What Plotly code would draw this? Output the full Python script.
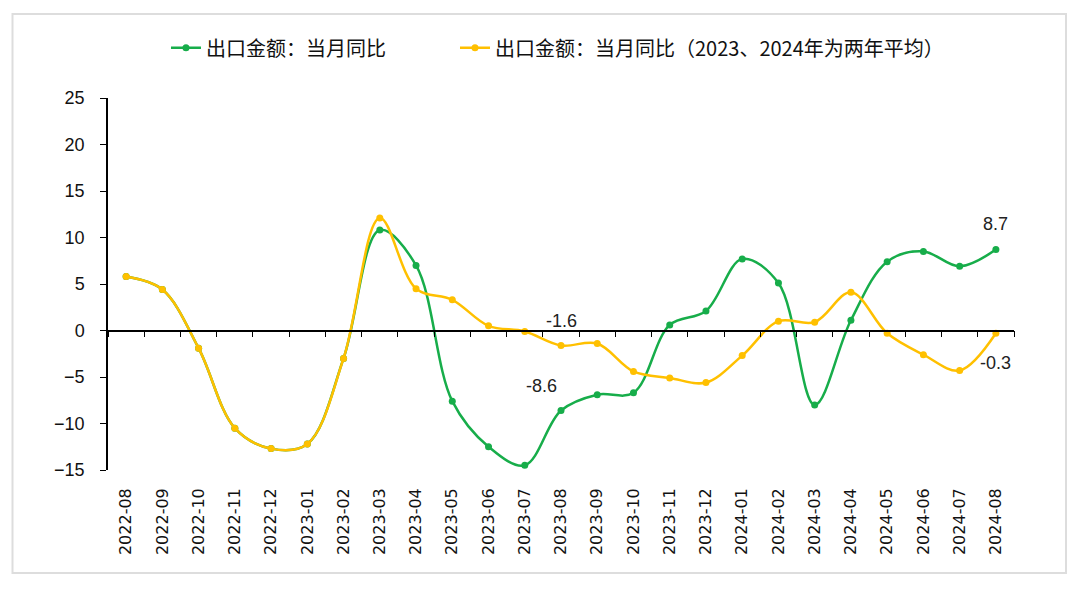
import plotly.graph_objects as go

# --- data ---
months = ["2022-08", "2022-09", "2022-10", "2022-11", "2022-12", "2023-01", "2023-02",
          "2023-03", "2023-04", "2023-05", "2023-06", "2023-07", "2023-08", "2023-09",
          "2023-10", "2023-11", "2023-12", "2024-01", "2024-02", "2024-03", "2024-04",
          "2024-05", "2024-06", "2024-07", "2024-08"]
export_yoy = [5.8, 4.4, -1.9, -10.5, -12.7, -12.2, -3.0,
              10.8, 7.0, -7.6, -12.5, -14.5, -8.6, -6.9,
              -6.7, 0.6, 2.1, 7.7, 5.1, -8.0, 1.1,
              7.4, 8.5, 6.9, 8.7]
export_yoy_2y = [5.8, 4.4, -1.9, -10.5, -12.7, -12.2, -3.0,
                 12.1, 4.5, 3.3, 0.5, -0.1, -1.6, -1.4,
                 -4.4, -5.1, -5.6, -2.7, 1.0, 0.9, 4.1,
                 -0.3, -2.6, -4.3, -0.3]
name_1 = "出口金额：当月同比"
name_2 = "出口金额：当月同比（2023、2024年为两年平均）"

GREEN = "#17AD4A"
YELLOW = "#FFC000"
CJK = "Noto Sans CJK SC"
NUM = "Liberation Sans"

fig = go.Figure()
fig.add_trace(go.Scatter(x=months, y=export_yoy, name=name_1, mode="lines+markers",
                         line=dict(color=GREEN, width=2.5, shape="spline", smoothing=1),
                         marker=dict(color=GREEN, size=7), legend="legend"))
fig.add_trace(go.Scatter(x=months, y=export_yoy_2y, name=name_2, mode="lines+markers",
                         line=dict(color=YELLOW, width=2.5, shape="spline", smoothing=1),
                         marker=dict(color=YELLOW, size=7), legend="legend2"))
# invisible trace that carries the zero-line axis
fig.add_trace(go.Scatter(x=months, y=[None] * len(months), xaxis="x2", showlegend=False,
                         hoverinfo="skip"))

# data labels (category, value, xshift, yshift)
labels = [
    (months[12], export_yoy_2y[12], 0, 24),
    (months[12], export_yoy[12], -20, 24),
    (months[24], export_yoy[24], 0, 26),
    (months[24], export_yoy_2y[24], 0, -30),
]
for x, y, xs, ys in labels:
    fig.add_annotation(x=x, y=y, text=f"{y:.1f}", showarrow=False, xshift=xs, yshift=ys,
                       font=dict(size=18, color="#222", family=NUM))

# light frame around the whole chart
fig.add_shape(type="rect", xref="paper", yref="paper",
              x0=-0.1054, x1=1.0574, y0=-0.2769, y1=1.2258,
              line=dict(color="#DDDDDD", width=2))

legend_style = dict(orientation="h", xanchor="left", y=1.135, yanchor="middle",
                    font=dict(size=20, family=CJK, color="#111"), bgcolor="rgba(0,0,0,0)")

cat_range = [-0.5, len(months) - 0.5]
fig.update_layout(
    xaxis=dict(type="category", range=cat_range, tickangle=-90, showgrid=False,
               showline=False, ticks="", zeroline=False, ticklabelstandoff=14,
               tickfont=dict(size=16, family="DejaVu Sans", color="#111")),
    # zero axis with tick marks between categories
    xaxis2=dict(overlaying="x", anchor="free", position=0.375, side="bottom",
                type="category", range=cat_range, tickson="boundaries", ticks="outside",
                ticklen=6, tickcolor="black", showline=True, linecolor="black",
                linewidth=1.5, showticklabels=False, showgrid=False, zeroline=False),
    yaxis=dict(range=[-15, 25], dtick=5, showgrid=False, zeroline=False, showline=True,
               linecolor="black", linewidth=1.5, ticks="outside", ticklen=6,
               tickcolor="black", ticklabelstandoff=12,
               tickfont=dict(size=18, family=NUM, color="#111")),
    width=1080, height=590,
    margin=dict(l=108, r=66, t=98, b=120),
    plot_bgcolor="white", paper_bgcolor="white",
    font=dict(family=CJK, color="#111"),
    legend=dict(legend_style, x=0.0640),
    legend2=dict(legend_style, x=0.3830),
    showlegend=True,
)

fig.write_html("out.html", config={"displayModeBar": False},
               post_script="document.body.style.margin='0';")
